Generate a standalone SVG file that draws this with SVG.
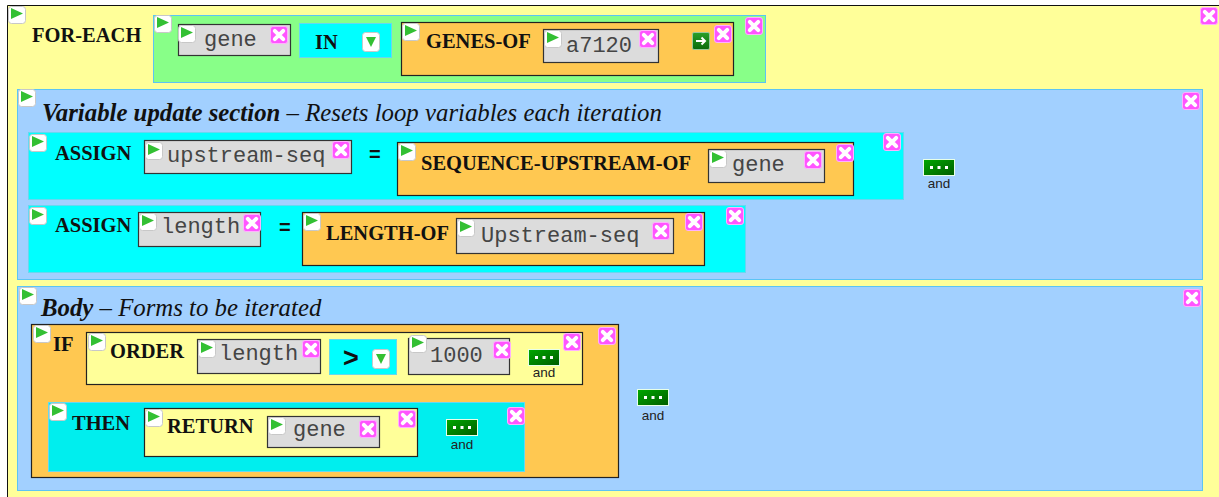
<svg xmlns="http://www.w3.org/2000/svg" xmlns:xlink="http://www.w3.org/1999/xlink" width="1219" height="497" viewBox="0 0 1219 497">
  <style>
    .kw { font-family: "Liberation Serif", "Times New Roman", serif; font-weight: bold; font-size: 20.5px; fill: #111; }
    .ttl-b { font-family: "Liberation Serif", "Times New Roman", serif; font-weight: bold; font-style: italic; font-size: 24.8px; fill: #111; }
    .ttl { font-family: "Liberation Serif", "Times New Roman", serif; font-style: italic; font-size: 24.8px; fill: #111; }
    .mono { font-family: "Liberation Mono", "Courier New", monospace; font-size: 22px; fill: #454545; }
    .op { font-family: "Liberation Sans", Arial, sans-serif; font-weight: bold; fill: #111; }
    .and { font-family: "Liberation Sans", Arial, sans-serif; font-size: 13.5px; fill: #222; text-anchor: middle; }
    .section { fill: #a2d0ff; stroke: #5cc4f4; stroke-width: 1; }
    .args { fill: #88ff88; stroke: #5cc4f4; stroke-width: 1; }
    .cyan { fill: #00ffff; stroke: #66d8f0; stroke-width: 1; }
    .cyan2 { fill: #00eeee; stroke: #66d8f0; stroke-width: 1; }
    .fn { fill: #ffc851; stroke: #222; stroke-width: 1.2; }
    .form { fill: #ffff99; stroke: #222; stroke-width: 1.2; }
    .var { fill: #dcdcdc; stroke: #333; stroke-width: 1.2; }
  </style>
  <defs>
    <!-- run button -->
    <g id="play">
      <rect x="0.5" y="0.5" width="17" height="17" rx="3" fill="#ffffff" stroke="#c8c8c8"/>
      <polygon points="3,2 15,7.5 3,13" fill="#33c033"/>
    </g>
    <!-- delete button -->
    <g id="del">
      <rect x="0.5" y="0.5" width="17" height="17" rx="2.5" fill="#ff55ff" stroke="#ffb0ff"/>
      <path d="M4.8,4.8 L13.2,13.2 M13.2,4.8 L4.8,13.2" stroke="#ffffff" stroke-width="4" stroke-linecap="round"/>
    </g>
    <!-- choice dropdown -->
    <g id="drop">
      <rect x="0.5" y="0.5" width="17" height="19" rx="3" fill="#ffffff" stroke="#c8c8c8"/>
      <polygon points="4,5 14,5 9,15" fill="#33c033"/>
    </g>
    <!-- evaluate arrow -->
    <linearGradient id="gArrow" x1="0" y1="0" x2="0" y2="1">
      <stop offset="0" stop-color="#2aa02a"/>
      <stop offset="1" stop-color="#0a6a0a"/>
    </linearGradient>
    <g id="arrow">
      <rect x="0.5" y="0.5" width="17" height="17" rx="1.5" fill="url(#gArrow)" stroke="#9bc79b"/>
      <path d="M4,9 H13 M9.5,5.5 L13,9 L9.5,12.5" fill="none" stroke="#ffffff" stroke-width="2"/>
    </g>
    <!-- "and" extender -->
    <linearGradient id="gAnd" x1="0" y1="0" x2="1" y2="1">
      <stop offset="0" stop-color="#00a800"/>
      <stop offset="1" stop-color="#005c00"/>
    </linearGradient>
    <g id="andBtn">
      <rect x="0.5" y="0.5" width="31" height="16" fill="url(#gAnd)" stroke="#e8ffe8"/>
      <rect x="7" y="7" width="3" height="3" fill="#ffffff"/>
      <rect x="14.5" y="7" width="3" height="3" fill="#ffffff"/>
      <rect x="22" y="7" width="3" height="3" fill="#ffffff"/>
    </g>
  </defs>

  <rect width="1219" height="497" fill="#ffffff"/>

  <!-- FOR-EACH frame -->
  <g id="for-each">
    <rect x="7" y="5" width="1212" height="492" fill="#ffff99"/>
    <path d="M7.5,497 V5.5 H1219" fill="none" stroke="#111" stroke-width="1"/>
    <use href="#play" x="8" y="6"/>
    <text class="kw" x="32" y="42">FOR-EACH</text>
    <use href="#del" x="1200" y="7"/>
  </g>

  <!-- loop header: gene IN GENES-OF a7120 -->
  <g id="loop-args">
    <rect class="args" x="153.5" y="15.5" width="612" height="67"/>
    <use href="#play" x="154" y="15"/>
    <use href="#del" x="745" y="17"/>
  </g>
  <g id="var-gene">
    <rect class="var" x="178.5" y="24.5" width="112" height="31"/>
    <use href="#play" x="178" y="25"/>
    <text class="mono" x="204" y="46">gene</text>
    <use href="#del" x="270" y="26"/>
  </g>
  <g id="in-choice">
    <rect class="cyan" x="299.5" y="23.5" width="92" height="34"/>
    <text class="kw" x="315" y="49">IN</text>
    <use href="#drop" x="362" y="32"/>
  </g>
  <g id="genes-of">
    <rect class="fn" x="401.5" y="22.5" width="332" height="53"/>
    <use href="#play" x="402" y="23"/>
    <text class="kw" x="426" y="48">GENES-OF</text>
    <use href="#arrow" x="692" y="32"/>
    <use href="#del" x="714" y="25"/>
  </g>
  <g id="const-a7120">
    <rect class="var" x="543.5" y="29.5" width="115" height="33"/>
    <use href="#play" x="544" y="30"/>
    <text class="mono" x="566" y="52">a7120</text>
    <use href="#del" x="639" y="30"/>
  </g>

  <!-- Variable update section -->
  <g id="update-section">
    <rect class="section" x="17.5" y="89.5" width="1185" height="190"/>
    <use href="#play" x="18" y="89"/>
    <text x="42" y="121"><tspan class="ttl-b">Variable update section</tspan><tspan class="ttl"> – Resets loop variables each iteration</tspan></text>
    <use href="#del" x="1182" y="92"/>
  </g>

  <g id="assign-upstream">
    <rect class="cyan" x="28.5" y="132.5" width="875" height="67"/>
    <use href="#play" x="29" y="134"/>
    <text class="kw" x="55" y="160">ASSIGN</text>
    <text class="op" x="369" y="161" font-size="20">=</text>
    <use href="#del" x="883" y="133"/>
    <use href="#andBtn" x="923" y="159"/>
    <text class="and" x="939" y="188">and</text>
  </g>
  <g id="var-upstream-seq">
    <rect class="var" x="144.5" y="140.5" width="207" height="33"/>
    <use href="#play" x="145" y="142"/>
    <text class="mono" x="167" y="162">upstream-seq</text>
    <use href="#del" x="332" y="141"/>
  </g>
  <g id="sequence-upstream-of">
    <rect class="fn" x="397.5" y="142.5" width="456" height="53"/>
    <use href="#play" x="398" y="143"/>
    <text class="kw" x="421" y="170">SEQUENCE-UPSTREAM-OF</text>
    <use href="#del" x="836" y="144"/>
  </g>
  <g id="var-gene-2">
    <rect class="var" x="708.5" y="149.5" width="116" height="33"/>
    <use href="#play" x="709" y="150"/>
    <text class="mono" x="732" y="171">gene</text>
    <use href="#del" x="804" y="151"/>
  </g>

  <g id="assign-length">
    <rect class="cyan" x="28.5" y="205.5" width="717" height="67"/>
    <use href="#play" x="29" y="207"/>
    <text class="kw" x="55" y="232">ASSIGN</text>
    <text class="op" x="279" y="234" font-size="20">=</text>
    <use href="#del" x="726" y="207"/>
  </g>
  <g id="var-length">
    <rect class="var" x="138.5" y="212.5" width="122" height="34"/>
    <use href="#play" x="139" y="213"/>
    <text class="mono" x="161" y="233">length</text>
    <use href="#del" x="243" y="214"/>
  </g>
  <g id="length-of">
    <rect class="fn" x="302.5" y="212.5" width="402" height="53"/>
    <use href="#play" x="303" y="213"/>
    <text class="kw" x="326" y="240">LENGTH-OF</text>
    <use href="#del" x="685" y="213"/>
  </g>
  <g id="var-upstream-seq-2">
    <rect class="var" x="456.5" y="218.5" width="217" height="35"/>
    <use href="#play" x="457" y="219"/>
    <text class="mono" x="481" y="242">Upstream-seq</text>
    <use href="#del" x="652" y="222"/>
  </g>

  <!-- Body section -->
  <g id="body-section">
    <rect class="section" x="17.5" y="286.5" width="1185" height="204"/>
    <use href="#play" x="19" y="287"/>
    <text x="41" y="316"><tspan class="ttl-b">Body</tspan><tspan class="ttl"> – Forms to be iterated</tspan></text>
    <use href="#del" x="1183" y="289"/>
    <use href="#andBtn" x="637" y="389"/>
    <text class="and" x="653" y="420">and</text>
  </g>

  <g id="if-form">
    <rect class="fn" x="31.5" y="324.5" width="587" height="153"/>
    <use href="#play" x="33" y="325"/>
    <text class="kw" x="53" y="351">IF</text>
    <use href="#del" x="598" y="327"/>
  </g>
  <g id="order">
    <rect class="form" x="86.5" y="332.5" width="496" height="52"/>
    <use href="#play" x="88" y="333"/>
    <text class="kw" x="110" y="358">ORDER</text>
    <use href="#andBtn" x="528" y="349"/>
    <text class="and" x="544" y="377">and</text>
    <use href="#del" x="563" y="333"/>
  </g>
  <g id="var-length-2">
    <rect class="var" x="197.5" y="339.5" width="123" height="34"/>
    <use href="#play" x="198" y="340"/>
    <text class="mono" x="219" y="360">length</text>
    <use href="#del" x="302" y="340"/>
  </g>
  <g id="gt-choice">
    <rect class="cyan" x="329.5" y="339.5" width="67" height="35"/>
    <text class="op" x="343" y="367" font-size="27">&gt;</text>
    <use href="#drop" x="372" y="349"/>
  </g>
  <g id="const-1000">
    <rect class="var" x="408.5" y="338.5" width="101" height="36"/>
    <use href="#play" x="409" y="335"/>
    <text class="mono" x="430" y="362">1000</text>
    <use href="#del" x="493" y="341"/>
  </g>

  <g id="then-form">
    <rect class="cyan2" x="48.5" y="402.5" width="476" height="69"/>
    <use href="#play" x="49" y="403"/>
    <text class="kw" x="72" y="430">THEN</text>
    <use href="#andBtn" x="446" y="419"/>
    <text class="and" x="462" y="449">and</text>
    <use href="#del" x="507" y="407"/>
  </g>
  <g id="return">
    <rect class="form" x="144.5" y="408.5" width="273" height="48"/>
    <use href="#play" x="145" y="409"/>
    <text class="kw" x="167" y="433">RETURN</text>
    <use href="#del" x="398" y="410"/>
  </g>
  <g id="var-gene-3">
    <rect class="var" x="267.5" y="416.5" width="112" height="31"/>
    <use href="#play" x="268" y="417"/>
    <text class="mono" x="293" y="436">gene</text>
    <use href="#del" x="359" y="420"/>
  </g>
</svg>
